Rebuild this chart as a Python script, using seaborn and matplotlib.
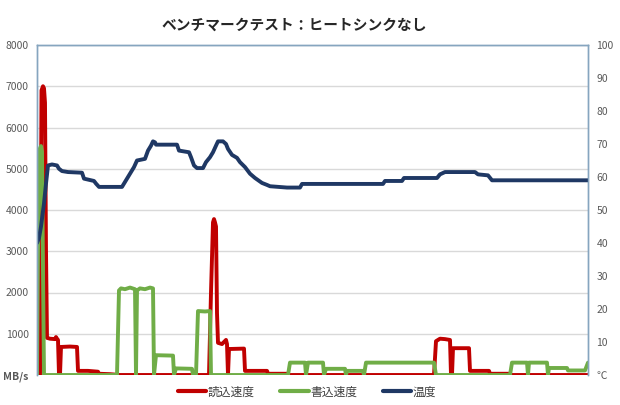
import numpy as np
import pandas as pd
import matplotlib
matplotlib.use("Agg")
import matplotlib.pyplot as plt
from matplotlib.lines import Line2D
import seaborn as sns

# time index (sample number) and values
read_t = [0, 3, 4.5, 6, 7, 8, 9, 10, 13, 18, 19, 20, 21, 22, 23, 24, 33, 40, 41, 51, 61, 62, 73, 83,
          172, 174, 176, 177, 178, 179, 180, 181, 185, 189, 190, 191, 192, 207, 208, 230, 231, 250, 251,
          397, 399, 403, 408, 413, 414, 415, 416, 432, 433, 452, 453, 473, 474, 551]
read_v = [0, 0, 6900, 7000, 6950, 6600, 3000, 900, 880, 870, 920, 880, 850, 0, 0, 680, 690, 680, 100, 100, 80, 30, 20, 0,
          0, 2000, 3700, 3780, 3700, 3600, 1500, 780, 750, 850, 750, 0, 630, 640, 100, 100, 30, 30, 0,
          0, 820, 880, 870, 850, 0, 0, 650, 650, 100, 100, 30, 30, 0, 0]

write_t = [0, 1, 2, 3, 4, 5, 6, 7, 80, 82, 84, 88, 93, 98, 99, 100, 103, 108, 113, 116, 117, 119, 136, 137,
           139, 155, 156, 159, 161, 168, 173, 174, 251, 253, 268, 269, 271, 286, 287, 289, 308, 309, 310,
           326, 327, 329, 397, 399, 473, 475, 490, 491, 492, 510, 511, 512, 530, 531, 548, 551]
write_v = [0, 3000, 5300, 5500, 5550, 5400, 2500, 0, 0, 2050, 2100, 2080, 2120, 2080, 0, 2050, 2100, 2080, 2120, 2100, 0, 480, 470, 0,
           160, 150, 0, 0, 1550, 1540, 1550, 0, 0, 300, 300, 0, 300, 300, 0, 150, 150, 0, 100,
           100, 0, 300, 300, 0, 0, 300, 300, 0, 300, 300, 0, 170, 170, 110, 110, 300]

temp_t = [0, 2, 4, 7, 9, 11, 15, 20, 22, 25, 31, 45, 47, 57, 59, 62, 85, 89, 93, 97, 100, 108, 111, 114, 116,
          118, 119, 140, 142, 152, 154, 157, 160, 166, 169, 173, 176, 179, 181, 186, 189, 191, 195, 200, 203,
          208, 213, 218, 225, 230, 233, 250, 263, 265, 346, 348, 365, 367, 400, 403, 408, 438, 441, 451, 455, 551]
temp_v = [40, 41.5, 45, 52, 58, 63.5, 63.8, 63.5, 62.5, 61.8, 61.5, 61.3, 59.5, 58.8, 58, 57, 57, 59, 61, 63, 65,
          65.5, 68, 69.5, 70.8, 70.5, 69.8, 69.8, 68, 67.5, 66, 63.5, 62.7, 62.7, 64.5, 66, 67.5, 69.5, 70.8,
          70.8, 70, 68.5, 66.7, 65.8, 64.5, 63, 61, 59.7, 58.2, 57.6, 57.2, 56.8, 56.8, 57.9, 57.9, 58.8, 58.8,
          59.7, 59.7, 60.8, 61.5, 61.5, 60.8, 60.5, 59, 59]

title = "ベンチマークテスト：ヒートシンクなし"
labels = ["読込速度", "書込速度", "温度"]
colors = ["#C00000", "#70AD47", "#1F3864"]

sns.set_style("white")
plt.rcParams['font.family'] = ['Noto Sans CJK JP', 'DejaVu Sans']

df_read = pd.DataFrame({"t": read_t, "v": read_v})
df_write = pd.DataFrame({"t": write_t, "v": write_v})
df_temp = pd.DataFrame({"t": temp_t, "v": temp_v})

fig = plt.figure(figsize=(6.2, 4.05), dpi=100)
ax = fig.add_axes([37 / 620, 1 - 375 / 405, (588 - 37) / 620, 330 / 405])
ax2 = ax.twinx()

sns.lineplot(data=df_read, x="t", y="v", ax=ax, color=colors[0], lw=2.8, sort=False)
sns.lineplot(data=df_write, x="t", y="v", ax=ax, color=colors[1], lw=2.8, sort=False)
sns.lineplot(data=df_temp, x="t", y="v", ax=ax2, color=colors[2], lw=2.8, sort=False)

ax.set_xlim(0, 551)
ax.set_ylim(0, 8000)
ax2.set_ylim(0, 100)
ax.set_xticks([])
ax.set_xlabel("")
ax.set_ylabel("")
ax2.set_ylabel("")

ax.set_yticks(range(0, 8001, 1000))
ax.set_yticklabels(["MB/s"] + [str(v) for v in range(1000, 8001, 1000)])
ax2.set_yticks(range(0, 101, 10))
ax2.set_yticklabels(["℃"] + [str(v) for v in range(10, 101, 10)])
ax.yaxis.grid(True, color="#D9D9D9", lw=1)
ax.set_axisbelow(True)
for a in (ax, ax2):
    a.tick_params(length=0, labelsize=7.5, labelcolor="#595959", pad=6)
    for s in a.spines.values():
        s.set_color("#86A5BF")
        s.set_linewidth(1)
    a.spines["bottom"].set_visible(False)
ax.get_yticklabels()[0].set_fontweight("bold")

fig.text(294 / 620, 1 - 25 / 405, title, ha="center", va="center", fontsize=10.6, fontweight="bold")

handles = [Line2D([], [], color=c, lw=3) for c in colors]
fig.legend(handles, labels, loc="center", bbox_to_anchor=(307 / 620, 1 - 392 / 405), ncol=3, frameon=False,
           fontsize=8.5, handlelength=2.4, handletextpad=0.1, columnspacing=2.2, labelcolor="#404040")

fig.savefig("out.png", dpi=100)
